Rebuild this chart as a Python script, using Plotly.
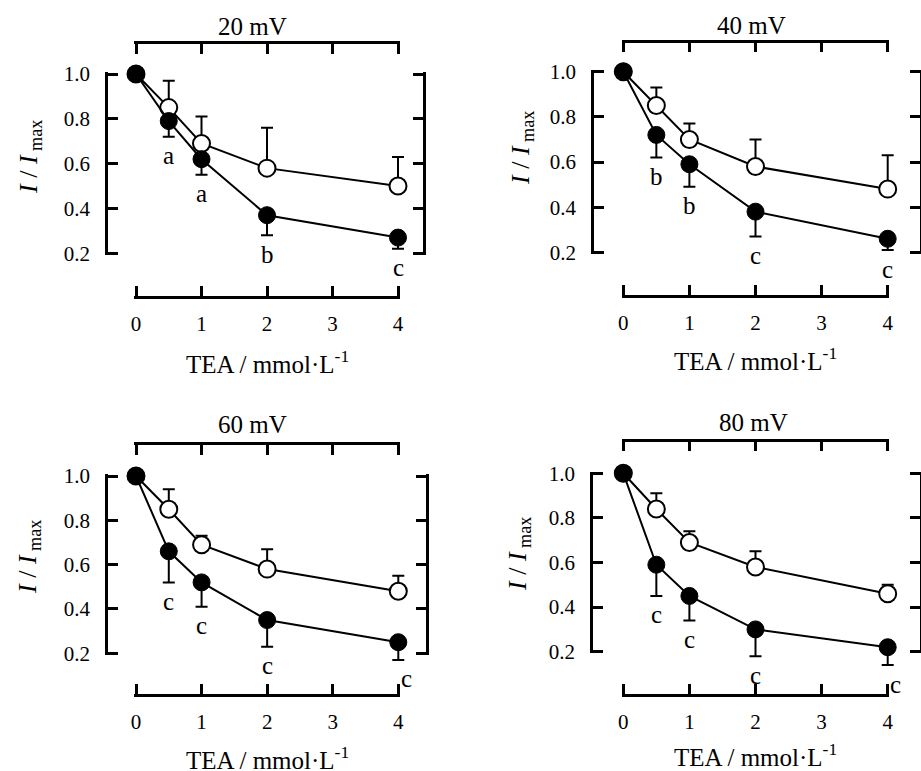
import plotly.graph_objects as go

# ---------------- data ----------------
conc = [0, 0.5, 1, 2, 4]
x_ticks = [0, 1, 2, 3, 4]
y_ticks = [0.2, 0.4, 0.6, 0.8, 1.0]
y_tick_text = ["0.2", "0.4", "0.6", "0.8", "1.0"]
voltages = ["20 mV", "40 mV", "60 mV", "80 mV"]

open_20 = [1.0, 0.85, 0.69, 0.58, 0.50]
open_40 = [1.0, 0.85, 0.70, 0.58, 0.48]
open_60 = [1.0, 0.85, 0.69, 0.58, 0.48]
open_80 = [1.0, 0.84, 0.69, 0.58, 0.46]

open_err_20 = [0, 0.12, 0.12, 0.18, 0.13]
open_err_40 = [0, 0.08, 0.07, 0.12, 0.15]
open_err_60 = [0, 0.09, 0.04, 0.09, 0.07]
open_err_80 = [0, 0.07, 0.05, 0.07, 0.04]

filled_20 = [1.0, 0.79, 0.62, 0.37, 0.27]
filled_40 = [1.0, 0.72, 0.59, 0.38, 0.26]
filled_60 = [1.0, 0.66, 0.52, 0.35, 0.25]
filled_80 = [1.0, 0.59, 0.45, 0.30, 0.22]

filled_err_20 = [0, 0.07, 0.07, 0.09, 0.05]
filled_err_40 = [0, 0.10, 0.10, 0.11, 0.05]
filled_err_60 = [0, 0.14, 0.11, 0.12, 0.08]
filled_err_80 = [0, 0.14, 0.11, 0.12, 0.08]

letters_20 = ["", "a", "a", "b", "c"]
letters_40 = ["", "b", "b", "c", "c"]
letters_60 = ["", "c", "c", "c", "c"]
letters_80 = ["", "c", "c", "c", "c"]

open_means = [open_20, open_40, open_60, open_80]
open_errs = [open_err_20, open_err_40, open_err_60, open_err_80]
filled_means = [filled_20, filled_40, filled_60, filled_80]
filled_errs = [filled_err_20, filled_err_40, filled_err_60, filled_err_80]
letters = [letters_20, letters_40, letters_60, letters_80]

# ---------------- layout geometry (pixels) ----------------
W, H = 921, 771
FONT = "Liberation Serif, Times New Roman, serif"
X_MIN, X_MAX = 0, 4
Y_MIN, Y_MAX = 0.2, 1.0
END_PAD = 1.6   # px the frame lines run past the end ticks (keeps end ticks visible)


def fx(px):
    return px / W


def fy(py):
    return 1 - py / H


geom = [
    dict(L=108, R=423, x0=136, x4=398, y1=74, y02=253.3, top=44, bot=296,
         title=(252, 27), ytitle=(30, 157), xtitle=(267, 362), last_shift=0),
    dict(L=594, R=919.5, x0=623.3, x4=887.7, y1=71.7, y02=252.3, top=42.7, bot=295,
         title=(751, 26), ytitle=(522, 148), xtitle=(755, 359), last_shift=0),
    dict(L=108, R=426, x0=136, x4=398.3, y1=476, y02=653.3, top=445, bot=694,
         title=(252, 424), ytitle=(29, 557), xtitle=(267, 758), last_shift=8),
    dict(L=593, R=919.5, x0=623.3, x4=887.7, y1=473.3, y02=651.7, top=441.7, bot=694,
         title=(753, 422), ytitle=(519, 554), xtitle=(755, 755), last_shift=8),
]

LW = 2.5
fig = go.Figure()
layout = dict(
    width=W, height=H, autosize=False,
    margin=dict(l=0, r=0, t=0, b=0, pad=0, autoexpand=False),
    paper_bgcolor="white", plot_bgcolor="rgba(0,0,0,0)",
    showlegend=False, font=dict(family=FONT, color="black", size=20),
)
annotations = []


def frame_axis():
    return dict(showline=True, linecolor="black", linewidth=LW, ticks="inside",
                ticklen=10, tickwidth=LW, tickcolor="black", showgrid=False,
                zeroline=False, fixedrange=True, automargin=False)


def akey(kind, n):
    return f"{kind}axis" if n == 1 else f"{kind}axis{n}"


def aid(kind, n):
    return kind if n == 1 else f"{kind}{n}"


for i, g in enumerate(geom):
    xd, xb, xt = 3 * i + 1, 3 * i + 2, 3 * i + 3
    yd, yl, yr = 3 * i + 1, 3 * i + 2, 3 * i + 3

    sx = (g["x4"] - g["x0"]) / (X_MAX - X_MIN)   # px per x unit
    sy = (g["y02"] - g["y1"]) / (Y_MAX - Y_MIN)  # px per y unit

    # invisible data axes; their domains span exactly the detached frame
    layout[akey("x", xd)] = dict(visible=False, domain=[fx(g["L"]), fx(g["R"])],
                                 range=[X_MIN + (g["L"] - g["x0"]) / sx,
                                        X_MIN + (g["R"] - g["x0"]) / sx],
                                 anchor=aid("y", yd), fixedrange=True, automargin=False)
    layout[akey("y", yd)] = dict(visible=False, domain=[fy(g["bot"]), fy(g["top"])],
                                 range=[Y_MIN - (g["bot"] - g["y02"]) / sy,
                                        Y_MAX + (g["y1"] - g["top"]) / sy],
                                 anchor=aid("x", xd), fixedrange=True, automargin=False)

    x_rng = [X_MIN - END_PAD / sx, X_MAX + END_PAD / sx]
    y_rng = [Y_MIN - END_PAD / sy, Y_MAX + END_PAD / sy]
    x_dom = [fx(g["x0"] - END_PAD), fx(g["x4"] + END_PAD)]
    y_dom = [fy(g["y02"] + END_PAD), fy(g["y1"] - END_PAD)]

    # frame: bottom / top x axes anchored to the data y axis
    layout[akey("x", xb)] = dict(frame_axis(), domain=x_dom, range=x_rng,
                                 anchor=aid("y", yd), side="bottom", tickvals=x_ticks,
                                 tickfont=dict(family=FONT, size=21, color="black"),
                                 ticklabelstandoff=7)
    layout[akey("x", xt)] = dict(frame_axis(), range=x_rng, anchor=aid("y", yd),
                                 overlaying=aid("x", xb), side="top", tickvals=x_ticks,
                                 showticklabels=False)
    # frame: left / right y axes anchored to the data x axis (mirror lines so both
    # vertical frame lines are always drawn)
    layout[akey("y", yl)] = dict(frame_axis(), domain=y_dom, range=y_rng, mirror=True,
                                 anchor=aid("x", xd), side="left", tickvals=y_ticks,
                                 ticktext=y_tick_text,
                                 tickfont=dict(family=FONT, size=21, color="black"),
                                 ticklabelstandoff=11)
    layout[akey("y", yr)] = dict(frame_axis(), range=y_rng, anchor=aid("x", xd),
                                 mirror=True, overlaying=aid("y", yl), side="right",
                                 tickvals=y_ticks, showticklabels=False)

    for (ax_x, ax_y) in ((xb, yd), (xt, yd), (xd, yl), (xd, yr)):
        fig.add_trace(go.Scatter(x=[None], y=[None], xaxis=aid("x", ax_x),
                                 yaxis=aid("y", ax_y), mode="markers",
                                 hoverinfo="skip", showlegend=False))

    xid, yid = aid("x", xd), aid("y", yd)
    zeros = [0] * len(conc)
    fig.add_trace(go.Scatter(
        x=conc, y=open_means[i], mode="lines+markers", xaxis=xid, yaxis=yid,
        line=dict(color="black", width=2),
        marker=dict(symbol="circle", size=17, color="white", line=dict(color="black", width=2)),
        error_y=dict(type="data", symmetric=False, array=open_errs[i], arrayminus=zeros,
                     color="black", thickness=2, width=6),
        hoverinfo="skip"))
    fig.add_trace(go.Scatter(
        x=conc, y=filled_means[i], mode="lines+markers", xaxis=xid, yaxis=yid,
        line=dict(color="black", width=2),
        marker=dict(symbol="circle", size=17, color="black", line=dict(color="black", width=1)),
        error_y=dict(type="data", symmetric=False, array=zeros, arrayminus=filled_errs[i],
                     color="black", thickness=2, width=6),
        hoverinfo="skip"))

    # significance letters
    for j, t in enumerate(letters[i]):
        if not t:
            continue
        annotations.append(dict(
            x=conc[j], y=filled_means[i][j] - filled_errs[i][j], xref=xid, yref=yid,
            text=t, showarrow=False, xanchor="center", yanchor="middle", yshift=-19,
            xshift=g["last_shift"] if j == len(conc) - 1 else 0,
            font=dict(family=FONT, size=25, color="black")))

    # panel title
    annotations.append(dict(
        x=fx(g["title"][0]), y=fy(g["title"][1]), xref="paper", yref="paper",
        text=voltages[i], showarrow=False, xanchor="center", yanchor="middle",
        font=dict(family=FONT, size=25, color="black")))
    # y title
    annotations.append(dict(
        x=fx(g["ytitle"][0]), y=fy(g["ytitle"][1]), xref="paper", yref="paper",
        text="<i>I</i> / <i>I</i><sub> max</sub>", showarrow=False, textangle=-90,
        xanchor="center", yanchor="middle",
        font=dict(family=FONT, size=26, color="black")))
    # x title
    annotations.append(dict(
        x=fx(g["xtitle"][0]), y=fy(g["xtitle"][1]), xref="paper", yref="paper",
        text="TEA / mmol·L<sup>-1</sup>", showarrow=False, xanchor="center",
        yanchor="middle", font=dict(family=FONT, size=25, color="black")))

layout["annotations"] = annotations
fig.update_layout(**layout)
fig.write_html("out.html", post_script="document.body.style.margin='0';",
               config={"displayModeBar": False})
